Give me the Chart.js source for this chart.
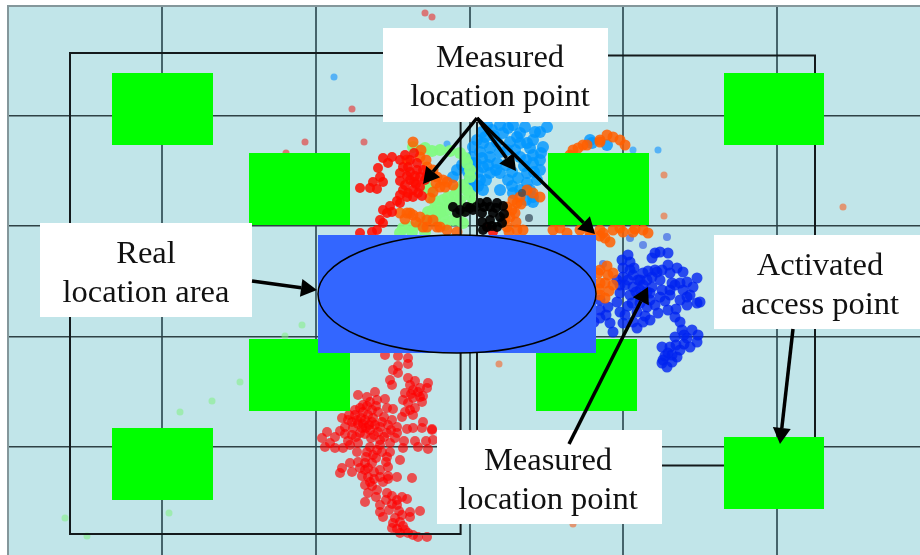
<!DOCTYPE html>
<html lang="en">
<head>
<meta charset="UTF-8" />
<title>Measured location points</title>
<script src="https://cdn.jsdelivr.net/npm/chart.js"></script>
<style>
  body { margin: 0; background: white; }
  canvas { display: block; }
</style>
</head>
<body>
<canvas id="map" width="920" height="555"></canvas>
<script>
// all values, in floor plan units
const gridX = [162, 316, 470, 623, 777];
const gridY = [116, 226, 337, 447];
const planLeft = 8;
const planTop = 6;

const redLow = [[385,355],[398,356],[408,358],[408,364],[398,366],[393,370],[398,373],[390,380],[392,385],[408,378],[415,381],[428,383],[427,388],[413,390],[420,397],[413,398],[422,402],[408,403],[415,408],[413,415],[405,393],[402,417],[393,409],[387,408],[410,385],[418,392],[423,396],[410,410],[403,400],[411,394],[405,412],[420,388],
  [358,395],[367,397],[375,392],[385,399],[377,400],[363,405],[355,410],[363,412],[372,410],[378,412],[342,418],[348,420],[357,420],[365,420],[373,418],[382,422],[388,425],[397,427],[353,428],[362,428],[370,430],[378,432],[387,433],[397,433],[423,422],[413,428],[407,429],[422,428],[432,429],[340,431],[327,432],[322,438],[330,443],[325,447],[335,448],[348,441],[358,443],[343,448],
  [361,418],[368,415],[355,415],[369,425],[358,424],[375,425],[365,434],[352,435],[380,440],[371,438],[345,427],[391,430],[404,441],[415,441],[426,441],[433,440],[432,430],[418,447],[428,449],[390,443],[403,448],[360,408],[367,406],[370,402],[376,406],[349,415],[352,422],[363,424],[372,422],[380,427],[384,417],[392,420],[366,428],[360,433],[374,435],[384,437],[395,438],[356,437],[345,434],[335,437],
  [370,447],[377,450],[387,457],[400,460],[350,463],[365,463],[342,468],[352,472],[365,470],[388,467],[340,473],[368,477],[380,477],[397,477],[412,478],[383,482],[365,485],[377,490],[368,493],[387,493],[365,502],[397,500],[407,499],[380,505],[397,505],[380,512],[410,512],[420,511],[410,517],[383,517],[400,522],[393,523],[392,528],[405,530],[413,535],[427,537],[418,537],[408,533],
  [373,455],[382,452],[386,462],[376,458],[360,468],[372,463],[374,472],[362,476],[388,476],[370,482],[392,496],[402,497],[386,500],[402,515],[397,529],[400,533],[350,445],[357,452],[367,452],[380,445],[390,452],[366,457],[358,462],[368,468],[380,470],[374,479],[388,479],[392,504],[399,511],[389,510],[395,518],[403,526],[376,497],[372,486]];
const redHigh = [[383,158],[392,157],[400,160],[378,168],[380,177],[373,182],[383,182],[360,188],[370,188],[377,189],[410,160],[417,163],[403,167],[417,170],[400,173],[420,177],[410,180],[403,190],[413,190],[420,187],[413,197],[407,197],[400,203],[390,206],[383,210],[387,213],[380,220],[383,223],[377,230],[360,233],[372,232],[410,172],[414,182],[405,185],[418,193],[425,180],[408,167],[487,227],[493,232],
  [407,176],[415,176],[400,181],[408,193],[416,184],[423,170],[405,155],[414,153],[397,201],[392,212],[388,163],[427,175],[400,195],[422,196]];
const orange = [[413,142],[407,160],[420,157],[437,177],[447,182],[453,185],[440,187],[433,192],[430,198],[443,180],[433,170],[427,167],[436,183],[429,176],[445,187],[421,150],[426,160],
  [400,213],[410,213],[413,215],[407,213],[420,217],[427,220],[433,220],[423,227],[437,227],[447,230],[457,232],[427,227],[440,227],[405,219],[416,222],
  [513,200],[507,207],[517,203],[510,217],[507,227],[517,230],[533,193],[540,197],[527,190],[520,197],[512,210],[516,222],[509,232],[523,230],[505,219],[515,213],[521,204],
  [573,150],[583,145],[600,142],[613,137],[620,140],[625,145],[600,140],[587,145],[607,135],[578,148],[570,155],
  [590,233],[600,230],[613,230],[623,232],[633,232],[643,230],[648,233],[605,238],[610,242],[600,236],[553,230],[567,233],[590,237],[603,233],[560,228],[580,230],[620,228],[635,229],
  [600,270],[608,275],[613,273],[605,283],[613,285],[600,295],[605,298],[598,273],[600,283],[607,266],[599,289],[609,291]];
const green = [[413,147],[425,148],[440,150],[450,151],[460,153],[465,158],[467,163],[470,170],[470,177],[463,185],[467,190],[455,195],[443,200],[433,210],[427,217],[430,190],[427,187],[438,207],[410,227],[403,228],[400,233],[443,217],[453,220],[447,210],[458,220],[463,223],[473,203],[434,200],[450,205],[420,225],[428,212],[460,200],[470,195],[432,151],[457,190],[448,197],[440,212],[435,218],[462,210],[412,232],[425,232],[445,225]];
const lightBlue = [[547,127],[540,132],[525,127],[513,125],[500,125],[487,125],[482,132],[503,133],[517,137],[533,140],[543,147],[530,148],[520,143],[497,142],[483,143],[507,150],[473,147],[472,157],[490,157],[520,157],[533,155],[497,163],[483,167],[472,163],[457,170],[453,177],[533,163],[540,170],[527,173],[500,173],[490,173],[480,180],[508,180],[537,180],[527,183],[520,190],[533,197],[533,202],[513,193],[483,190],[500,190],[468,172],[473,187],
  [492,130],[508,128],[520,133],[490,148],[500,152],[515,150],[527,143],[480,152],[488,165],[478,172],[506,165],[526,160],[540,160],[518,178],[530,190],[526,200],[592,143],[607,145],[590,140],[512,186],[494,136],[510,142],[485,137],[477,140],[476,163],[482,158],[496,170],[486,180],[478,186],[534,172],[524,166],[512,172],[541,153],[535,132],[470,180],[462,165]];
const blue = [[628,255],[622,260],[630,262],[623,268],[660,252],[655,253],[652,258],[668,253],[668,265],[662,270],[677,268],[670,273],[683,272],[623,277],[633,275],[643,273],[652,277],[660,280],[617,280],[625,285],[633,287],[643,285],[652,287],[662,290],[670,290],[680,283],[687,282],[697,278],[693,287],[683,290],[620,293],[630,295],[640,297],[650,300],[660,297],[670,295],[680,300],[687,305],[697,303],[700,302],[617,302],[600,310],[608,307],[620,312],[647,307],[658,313],[668,310],[675,317],[680,322],[600,318],[610,323],[623,323],[633,322],[643,322],[650,320],[637,328],[613,332],[682,330],[692,330],[698,335],[687,338],[675,337],[697,342],[690,347],[680,350],[670,347],[662,347],
  [668,353],[677,357],[663,360],[672,362],[667,367],[662,363],[630,270],[638,280],[628,280],[640,290],[632,303],[650,293],[687,297],[675,285],[640,280],[647,280],[672,283],[684,344],[676,345],[672,355],[634,268],[620,285],[648,271],[655,270],[636,292],[647,292],[628,306],[640,303],[655,305],[637,312],[645,316],[625,315],[665,301],[676,309],[690,295],[600,300],[606,315],[594,322],[684,335],[665,356],[657,272]];
const blueEdge = [[667,237],[643,245],[630,238],[603,264]];
const black = [[453,207],[460,210],[467,207],[473,210],[480,203],[487,202],[497,203],[482,213],[493,213],[500,217],[483,230],[497,227],[490,220],[502,223],[482,222],[457,213],[465,212],[476,207],[490,207],[503,206],[504,214],[487,227],[492,226],[470,208],[484,207],[496,208]];
const grayDots = [[529,218],[522,193]];
const strayRed = [[425,13],[432,17],[352,109],[305,142],[364,142],[286,153]];
const strayOrange = [[843,207],[664,175],[664,216],[499,364],[573,524]];
const strayBlue = [[334,77],[447,144],[633,150],[658,150]];
const strayGreen = [[302,325],[285,336],[240,382],[212,401],[180,412],[169,513],[65,518],[87,536]];

// access points as [left, top, right, bottom]
const accessPoints = [[112,73,213,145],[724,73,824,145],[249,153,350,225],[548,153,649,225],[249,339,350,411],[536,339,637,411],[112,428,213,500],[724,437,824,509]];
const realArea = [318,235,596,353];

const wallLines = [
  [[460.6,118],[460.6,534],[70,534],[70,53],[383,53]],
  [[608,55.5],[815,55.5],[815,437]],
  [[477,118],[477,465.5],[724,465.5]]
];
const callouts = [
  { box: [383,28,608,122], cx: 500, lines: ['Measured', 'location point'], base: [67,106] },
  { box: [40,223,252,317], cx: 146, lines: ['Real', 'location area'], base: [263,302] },
  { box: [714,235,920,329], cx: 820, lines: ['Activated', 'access point'], base: [275,314] },
  { box: [437,430,662,524], cx: 548, lines: ['Measured', 'location point'], base: [470,509] }
];
const arrows = [
  [[477,118],[423,184]], [[477,118],[516,171]], [[477,118],[595,234]],
  [[252,281],[317,290]], [[569,444],[648,287]], [[793,329],[780,444]]
];

const toXY = pts => pts.map(p => ({ x: p[0], y: p[1] }));

const mapDecor = {
  id: 'mapDecor',
  beforeDraw(chart) {
    const { ctx, scales: { x, y } } = chart;
    ctx.fillStyle = '#c1e5e9';
    ctx.fillRect(x.getPixelForValue(planLeft), y.getPixelForValue(planTop), 912, 549);
  },
  beforeDatasetsDraw(chart) {
    // the plan stops short of the page edge on the left and at the top
    const { ctx, scales: { x, y } } = chart;
    const l = x.getPixelForValue(planLeft), t = y.getPixelForValue(planTop);
    ctx.save();
    ctx.fillStyle = '#fff';
    ctx.fillRect(0, 0, l, 555);
    ctx.fillRect(0, 0, 920, t);
    ctx.strokeStyle = '#84979b';
    ctx.lineWidth = 2;
    ctx.beginPath();
    ctx.moveTo(l, 555);
    ctx.lineTo(l, t);
    ctx.lineTo(920, t);
    ctx.stroke();
    ctx.restore();
  },
  afterDatasetsDraw(chart) {
    const { ctx, scales: { x, y } } = chart;
    const px = v => x.getPixelForValue(v);
    const py = v => y.getPixelForValue(v);
    const box = (b, color) => {
      ctx.fillStyle = color;
      ctx.fillRect(px(b[0]), py(b[1]), px(b[2]) - px(b[0]), py(b[3]) - py(b[1]));
    };
    ctx.save();

    ctx.strokeStyle = '#141a1c';
    ctx.lineWidth = 2;
    wallLines.forEach(line => {
      ctx.beginPath();
      line.forEach((p, i) => i ? ctx.lineTo(px(p[0]), py(p[1])) : ctx.moveTo(px(p[0]), py(p[1])));
      ctx.stroke();
    });

    accessPoints.forEach(b => box(b, '#00ff00'));

    box(realArea, '#3366ff');
    ctx.beginPath();
    ctx.ellipse(px(457), py(294), 139, 59, 0, 0, Math.PI * 2);
    ctx.strokeStyle = '#000';
    ctx.lineWidth = 1.5;
    ctx.stroke();

    callouts.forEach(c => {
      box(c.box, '#fff');
      ctx.fillStyle = '#111';
      ctx.font = '32.5px "Liberation Serif"';
      ctx.textAlign = 'center';
      ctx.textBaseline = 'alphabetic';
      c.lines.forEach((t, i) => ctx.fillText(t, px(c.cx), py(c.base[i])));
    });

    ctx.strokeStyle = '#000';
    ctx.fillStyle = '#000';
    ctx.lineWidth = 3.5;
    arrows.forEach(([from, to]) => {
      const a = Math.atan2(py(to[1]) - py(from[1]), px(to[0]) - px(from[0]));
      const head = 16, half = 9;
      const bx = px(to[0]) - head * Math.cos(a), by = py(to[1]) - head * Math.sin(a);
      ctx.beginPath();
      ctx.moveTo(px(from[0]), py(from[1]));
      ctx.lineTo(bx, by);
      ctx.stroke();
      ctx.beginPath();
      ctx.moveTo(px(to[0]), py(to[1]));
      ctx.lineTo(bx + half * Math.sin(a), by - half * Math.cos(a));
      ctx.lineTo(bx - half * Math.sin(a), by + half * Math.cos(a));
      ctx.closePath();
      ctx.fill();
    });
    ctx.restore();
  }
};

const dots = (label, pts, color, r) => ({
  label, data: toXY(pts), backgroundColor: color, borderWidth: 0, pointRadius: r, pointHoverRadius: r
});

new Chart(document.getElementById('map'), {
  type: 'scatter',
  data: {
    datasets: [
      dots('black', black, 'rgba(0,0,0,.92)', 5),
      dots('gray', grayDots, 'rgba(50,70,85,.7)', 4),
      dots('red', redHigh, 'rgba(255,10,0,.85)', 5),
      dots('orange', orange, 'rgba(255,95,0,.85)', 5.5),
      dots('green', green, 'rgba(130,250,130,.95)', 6),
      dots('lightBlue', lightBlue, 'rgba(0,150,255,.8)', 6),
      dots('blue', blue, 'rgba(0,35,240,.8)', 5.5),
      dots('blueEdge', blueEdge, 'rgba(40,80,230,.6)', 4),
      dots('redLow', redLow, 'rgba(255,0,0,.65)', 5),
      dots('strayRed', strayRed, 'rgba(222,90,90,.8)', 3.5),
      dots('strayOrange', strayOrange, 'rgba(232,130,85,.8)', 3.5),
      dots('strayBlue', strayBlue, 'rgba(50,160,250,.75)', 3.5),
      dots('strayGreen', strayGreen, 'rgba(130,240,130,.55)', 3.5)
    ]
  },
  options: {
    responsive: false,
    animation: false,
    events: [],
    layout: { padding: 0, autoPadding: false },
    plugins: { legend: { display: false }, tooltip: { enabled: false } },
    scales: {
      x: {
        type: 'linear', min: 0, max: 920,
        afterBuildTicks: s => { s.ticks = gridX.map(v => ({ value: v })); },
        ticks: { display: false },
        border: { display: false },
        grid: { color: '#46646b', lineWidth: 2, drawTicks: false }
      },
      y: {
        type: 'linear', min: 0, max: 555, reverse: true,
        afterBuildTicks: s => { s.ticks = gridY.map(v => ({ value: v })); },
        ticks: { display: false },
        border: { display: false },
        grid: { color: '#2f4145', lineWidth: 1.5, drawTicks: false }
      }
    }
  },
  plugins: [mapDecor]
});
</script>
</body>
</html>
